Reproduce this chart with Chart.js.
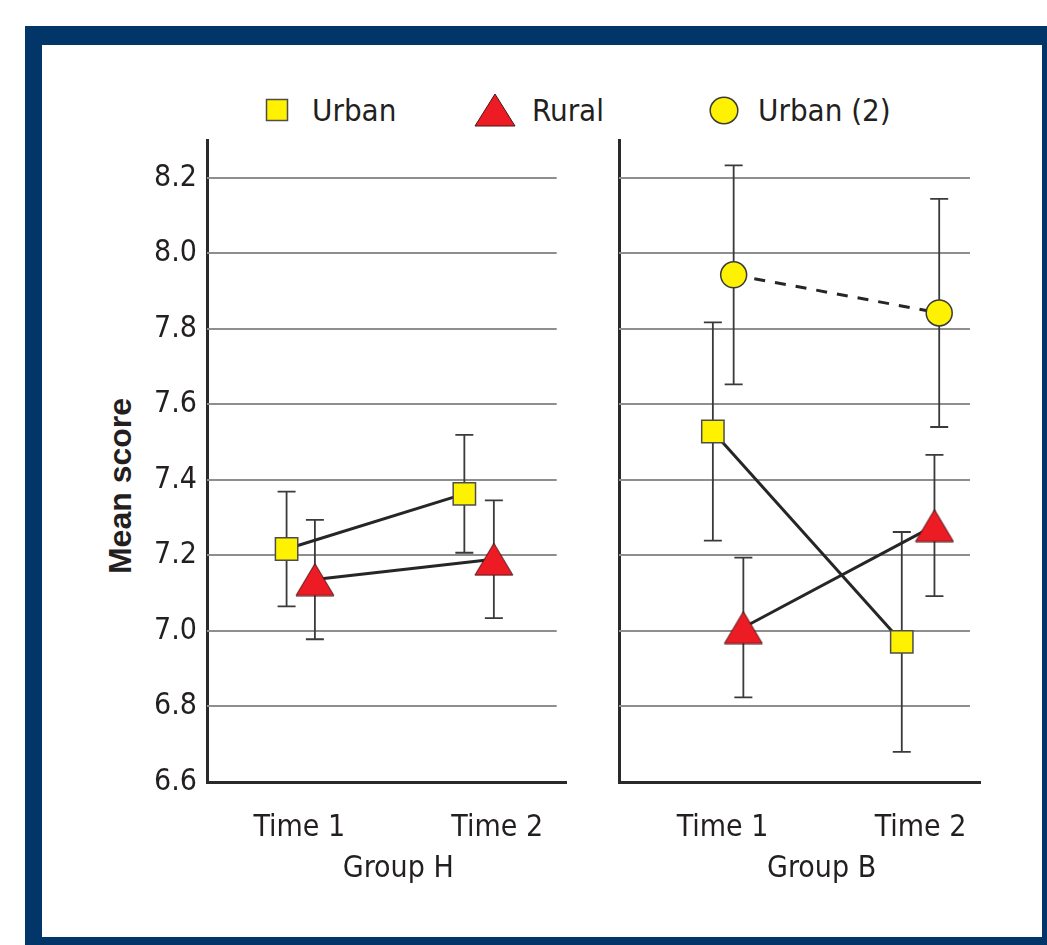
<!DOCTYPE html>
<html>
<head>
<meta charset="utf-8">
<title>Mean score by group and time</title>
<script src="https://cdn.jsdelivr.net/npm/chart.js@4.4.1/dist/chart.umd.min.js"></script>
<style>
  html, body { margin: 0; padding: 0; background: #fff; width: 1047px; height: 945px; overflow: hidden; position: relative; }
  .frame { position: absolute; left: 25px; top: 26px; width: 1035px; height: 930px; box-sizing: border-box;
           border-style: solid; border-color: #033668; border-width: 19px 18px 19px 17px; background: #fff; }
  canvas { position: absolute; }
  #chartH { left: 60px; top: 100px; }
  #chartB { left: 580px; top: 100px; }
  .ytitle { position: absolute; left: 120px; top: 486px; transform: translate(-50%, -50%) rotate(-90deg);
            font: bold 32px "Liberation Sans", Arial, sans-serif; color: #231f20; white-space: nowrap; }
  .legend-item { position: absolute; top: 110px; transform: translateY(-50%); display: flex; align-items: center;
                 font: 31px "DejaVu Sans Condensed", "Open Sans", sans-serif; color: #231f20; white-space: nowrap; }
  .legend-item svg { display: block; }
</style>
</head>
<body>
<div class="frame"></div>
<div id="legend"></div>
<div class="ytitle" id="ytitle"></div>
<canvas id="chartH" width="524" height="820"></canvas>
<canvas id="chartB" width="440" height="820"></canvas>
<script>
// ---- data ----
const timepoints = ['Time 1', 'Time 2'];
const groups = ['Group H', 'Group B'];
const seriesNames = ['Urban', 'Rural', 'Urban (2)'];
const yTitle = 'Mean score';
const yTicks = [6.6, 6.8, 7.0, 7.2, 7.4, 7.6, 7.8, 8.0, 8.2];

// Group H: means and error half-widths at Time 1, Time 2
const groupH_urban    = [7.217, 7.363];
const groupH_urbanErr = [0.152, 0.156];
const groupH_rural    = [7.136, 7.190];
const groupH_ruralErr = [0.158, 0.156];

// Group B
const groupB_urban     = [7.528, 6.971];
const groupB_urbanErr  = [0.289, 0.291];
const groupB_rural     = [7.009, 7.279];
const groupB_ruralErr  = [0.185, 0.187];
const groupB_urban2    = [7.943, 7.842];
const groupB_urban2Err = [0.290, 0.302];

// ---- layout / style ----
const FONT = '"DejaVu Sans Condensed", "Open Sans", sans-serif';
const INK = '#231f20';
const YELLOW = '#FFF200';
const RED = '#ED1C24';
// horizontal dodge of each series around its time point
const dodgeH = { urban: [-0.064, -0.166], rural: [0.079, -0.017] };
const dodgeB = { urban: [-0.049, -0.095], rural: [0.105, 0.070], urban2: [0.056, 0.094] };

function makeTriangle(w, h) {
  const c = document.createElement('canvas');
  c.width = w + 2; c.height = h + 2;
  const g = c.getContext('2d');
  g.beginPath();
  g.moveTo(c.width / 2, 1);
  g.lineTo(c.width - 1, c.height - 1);
  g.lineTo(1, c.height - 1);
  g.closePath();
  g.fillStyle = RED; g.fill();
  g.lineWidth = 1; g.strokeStyle = '#4a1515'; g.stroke();
  return c;
}
const triangleMark = makeTriangle(38, 32);

const seriesStyle = {
  urban:  { pointStyle: 'rect', pointRadius: 15.8, pointBackgroundColor: YELLOW, pointBorderColor: '#4d4d4d', pointBorderWidth: 1.5, borderDash: [] },
  rural:  { pointStyle: triangleMark, pointRadius: 16, pointBackgroundColor: RED, pointBorderColor: '#4a1515', pointBorderWidth: 1, borderDash: [] },
  urban2: { pointStyle: 'circle', pointRadius: 13, pointBackgroundColor: YELLOW, pointBorderColor: '#3a3a3a', pointBorderWidth: 1.5, borderDash: [11, 10] }
};

function series(label, key, means, errs, dodge) {
  return Object.assign({
    label: label,
    data: means.map((m, i) => ({ x: i + 1 + dodge[i], y: m })),
    errors: errs,
    borderColor: '#262626',
    borderWidth: 3,
    fill: false,
    tension: 0
  }, seriesStyle[key]);
}

// gridlines, error bars and group caption
const panelDecor = {
  id: 'panelDecor',
  beforeDatasetsDraw(chart, args, opts) {
    const { ctx, chartArea: a, scales: { x, y } } = chart;
    ctx.save();
    ctx.strokeStyle = '#8e8e8e';
    ctx.lineWidth = 2;
    y.ticks.forEach(t => {
      if (t.value <= y.min + 1e-9) return;
      const py = Math.round(y.getPixelForValue(t.value));
      ctx.beginPath();
      ctx.moveTo(a.left, py);
      ctx.lineTo(a.right - opts.gridInset, py);
      ctx.stroke();
    });
    ctx.strokeStyle = '#3a3a3a';
    ctx.lineWidth = 1.8;
    chart.data.datasets.forEach((ds, i) => {
      const meta = chart.getDatasetMeta(i);
      ds.errors.forEach((e, j) => {
        const px = meta.data[j].x;
        const v = ds.data[j].y;
        const top = y.getPixelForValue(v + e);
        const bot = y.getPixelForValue(v - e);
        const cap = 9;
        ctx.beginPath();
        ctx.moveTo(px, top); ctx.lineTo(px, bot);
        ctx.moveTo(px - cap, top); ctx.lineTo(px + cap, top);
        ctx.moveTo(px - cap, bot); ctx.lineTo(px + cap, bot);
        ctx.stroke();
      });
    });
    ctx.restore();
  },
  afterDraw(chart, args, opts) {
    const { ctx, chartArea: a, scales: { x } } = chart;
    ctx.save();
    ctx.font = '30px ' + FONT;
    ctx.fillStyle = INK;
    ctx.textAlign = 'center';
    ctx.textBaseline = 'alphabetic';
    ctx.fillText(opts.caption, x.getPixelForValue((1 + timepoints.length) / 2), a.bottom + 95);
    ctx.restore();
  }
};

function panel(canvasId, datasets, cfg) {
  return new Chart(document.getElementById(canvasId), {
    type: 'line',
    data: { datasets: datasets },
    plugins: [panelDecor],
    options: {
      responsive: false,
      animation: false,
      layout: { padding: { top: 40, right: cfg.padRight, left: 0, bottom: 0 } },
      plugins: {
        legend: { display: false },
        tooltip: { enabled: false },
        panelDecor: { gridInset: 10, caption: cfg.caption }
      },
      scales: {
        x: {
          type: 'linear',
          min: cfg.xMin, max: cfg.xMax,
          grid: { display: false, drawTicks: false },
          border: { display: true, color: '#2a2a2a', width: 3 },
          afterBuildTicks: s => { s.ticks = timepoints.map((_, i) => ({ value: i + 1 })); },
          afterFit: s => { s.height = 138; },
          ticks: {
            callback: v => timepoints[Math.round(v) - 1],
            font: { family: FONT, size: 30 },
            color: INK, padding: 28, maxRotation: 0, autoSkip: false
          }
        },
        y: {
          type: 'linear',
          min: 6.6, max: 8.3,
          grid: { display: false, drawTicks: false },
          border: { display: true, color: '#2a2a2a', width: 3 },
          afterBuildTicks: s => { s.ticks = yTicks.map(v => ({ value: v })); },
          afterFit: s => { s.width = cfg.yWidth; },
          ticks: {
            display: cfg.showTicks,
            callback: v => v.toFixed(1),
            font: { family: FONT, size: 30 },
            color: INK, padding: 10
          }
        }
      }
    }
  });
}

panel('chartH', [
  series(seriesNames[0], 'urban', groupH_urban, groupH_urbanErr, dodgeH.urban),
  series(seriesNames[1], 'rural', groupH_rural, groupH_ruralErr, dodgeH.rural)
], { caption: groups[0], xMin: 0.534, xMax: 2.351, padRight: 13, yWidth: 147, showTicks: true });

panel('chartB', [
  series(seriesNames[0], 'urban', groupB_urban, groupB_urbanErr, dodgeB.urban),
  series(seriesNames[1], 'rural', groupB_rural, groupB_ruralErr, dodgeB.rural),
  series(seriesNames[2], 'urban2', groupB_urban2, groupB_urban2Err, dodgeB.urban2)
], { caption: groups[1], xMin: 0.477, xMax: 2.300, padRight: 40, yWidth: 39, showTicks: false });

document.getElementById('ytitle').textContent = yTitle;

// legend shared by both panels
const legendMarks = [
  '<svg width="24" height="24"><rect x="1.5" y="1.5" width="21" height="21" fill="' + YELLOW + '" stroke="#4d4d4d" stroke-width="1.5"/></svg>',
  '<svg width="42" height="34"><polygon points="1,33 21,1 41,33" fill="' + RED + '" stroke="#4a1515" stroke-width="1"/></svg>',
  '<svg width="30" height="29"><ellipse cx="15" cy="14.5" rx="13.8" ry="13.3" fill="' + YELLOW + '" stroke="#3a3a3a" stroke-width="1.5"/></svg>'
];
const legendLeft = [265, 474, 709];
const legendGap = [23, 16, 19];
const legend = document.getElementById('legend');
seriesNames.forEach((name, i) => {
  const item = document.createElement('div');
  item.className = 'legend-item';
  item.style.left = legendLeft[i] + 'px';
  item.innerHTML = legendMarks[i];
  const label = document.createElement('span');
  label.textContent = name;
  label.style.marginLeft = legendGap[i] + 'px';
  item.appendChild(label);
  legend.appendChild(item);
});
</script>
</body>
</html>
